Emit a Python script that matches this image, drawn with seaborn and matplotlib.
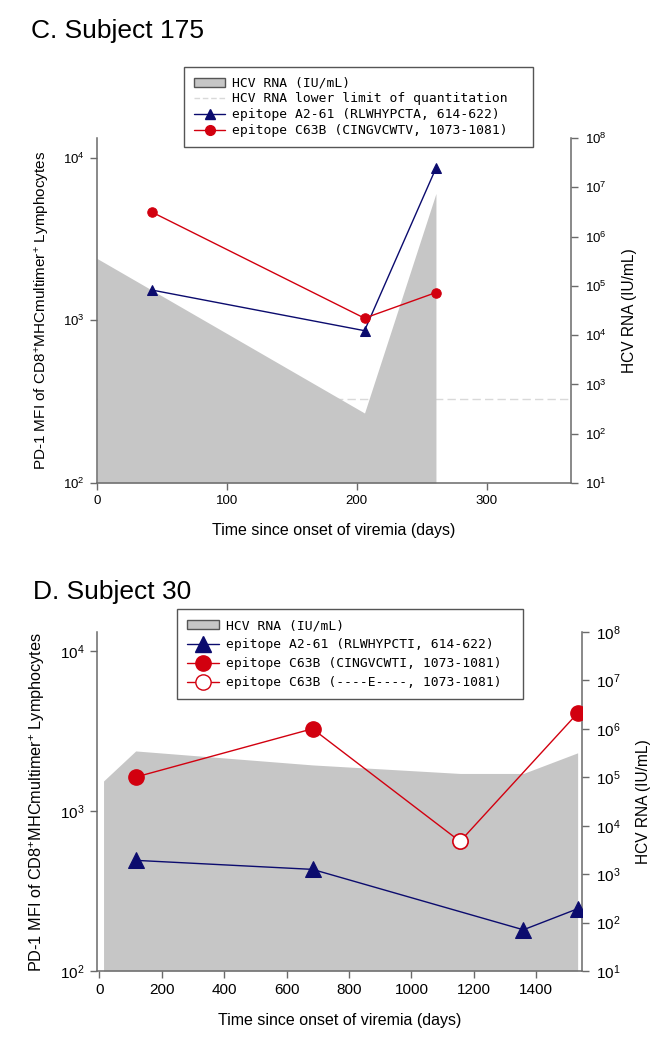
import numpy as np
import pandas as pd
import matplotlib
matplotlib.use("Agg")
import matplotlib.pyplot as plt
import seaborn as sns
from matplotlib.ticker import LogLocator, NullLocator, FixedLocator
from matplotlib.lines import Line2D
from matplotlib.patches import Patch
from matplotlib.font_manager import FontProperties

# ---------------- data ----------------
# Panel C, subject 175
c_days_a2 = [42, 206, 261]
c_mfi_a2 = [1535, 863, 8600]
c_days_c63 = [42, 206, 261]
c_mfi_c63 = [4630, 1030, 1480]
c_rna_days = [0, 206, 261]
c_rna = [3.6e5, 263, 7.5e6]
c_lloq = 500
c_xticks = [0, 100, 200, 300]
c_labels = ["HCV RNA (IU/mL)",
            "HCV RNA lower limit of quantitation",
            "epitope A2-61 (RLWHYPCTA, 614-622)",
            "epitope C63B (CINGVCWTV, 1073-1081)"]

# Panel D, subject 30
d_days_a2 = [116, 683, 1359, 1533]
d_mfi_a2 = [492, 432, 181, 245]
d_days_c63 = [116, 683, 1533]
d_mfi_c63 = [1632, 3273, 4098]
d_days_c63_var = [1156]
d_mfi_c63_var = [646]
d_rna_days = [13, 116, 683, 1156, 1359, 1533]
d_rna = [8.4e4, 3.5e5, 1.8e5, 1.2e5, 1.2e5, 3.2e5]
d_xticks = [0, 200, 400, 600, 800, 1000, 1200, 1400]
d_labels = ["HCV RNA (IU/mL)",
            "epitope A2-61 (RLWHYPCTI, 614-622)",
            "epitope C63B (CINGVCWTI, 1073-1081)",
            "epitope C63B (----E----, 1073-1081)"]

# ---------------- style ----------------
sns.set_style("ticks")
plt.rcParams["font.family"] = ["Liberation Sans", "DejaVu Sans"]
plt.rcParams["mathtext.fontset"] = "custom"
plt.rcParams["mathtext.rm"] = "Liberation Sans"
plt.rcParams["mathtext.it"] = "Liberation Sans:italic"
plt.rcParams["mathtext.bf"] = "Liberation Sans:bold"
plt.rcParams["text.color"] = "black"
plt.rcParams["axes.labelcolor"] = "black"

GRAY = "#c6c6c6"
NAVY = "#0b0b6e"
RED = "#d2000f"
SPINE = "#6a6a6a"
LLOQ_C = "#d9d9d9"
MONO = FontProperties(family="DejaVu Sans Mono", size=9.35)
W, H = 666.0, 1050.0

fig = plt.figure(figsize=(6.66, 10.5), dpi=100)


def setup_axes(rect, xlim, xticks, tick_fs, ylab_fs, xlab_fs):
    ax = fig.add_axes(rect)
    ax2 = ax.twinx()
    ax.set_zorder(ax2.get_zorder() + 1)
    ax.patch.set_visible(False)
    ax.set_yscale("log")
    ax2.set_yscale("log")
    ax.set_ylim(100, 10 ** 4.12)
    ax2.set_ylim(10, 1e8)
    ax.set_xlim(*xlim)
    ax.xaxis.set_major_locator(FixedLocator(xticks))
    for a in (ax, ax2):
        a.yaxis.set_major_locator(LogLocator(base=10, numticks=12))
        a.yaxis.set_minor_locator(NullLocator())
        a.spines["top"].set_visible(False)
        for s in a.spines.values():
            s.set_color(SPINE)
            s.set_linewidth(1.1)
    ax.spines["right"].set_visible(False)
    ax2.spines["left"].set_visible(False)
    ax2.spines["bottom"].set_visible(False)
    ax.tick_params(axis="both", which="major", direction="out", length=5,
                   width=1, color=SPINE, labelcolor="black",
                   labelsize=tick_fs, pad=4, left=True, bottom=True)
    ax2.tick_params(axis="y", which="major", direction="out", length=5,
                    width=1, color=SPINE, labelcolor="black",
                    labelsize=tick_fs, pad=5, right=True)
    ax.set_ylabel("PD-1 MFI of CD8$^{+}$MHCmultimer$^{+}$ Lymphocytes",
                  fontsize=ylab_fs, labelpad=8)
    ax.set_xlabel("Time since onset of viremia (days)", fontsize=xlab_fs,
                  labelpad=11)
    ax2.set_ylabel("HCV RNA (IU/mL)", fontsize=11.2, labelpad=11)
    return ax, ax2


def make_legend(ax, handles, labels, left, right, top, spacing, pad):
    leg = ax.legend(handles, labels, loc="upper left",
                    bbox_to_anchor=(left / W, 1 - top / H - 0.1,
                                    (right - left) / W, 0.1),
                    bbox_transform=fig.transFigure, mode="expand",
                    prop=MONO, frameon=True,
                    fancybox=False, edgecolor="#555555", framealpha=1,
                    borderpad=pad, labelspacing=spacing, handlelength=2.45,
                    handletextpad=0.52, borderaxespad=0)
    leg.get_frame().set_linewidth(1.0)
    return leg


# ---------------- Panel C ----------------
axC, axC2 = setup_axes([97 / W, 1 - 483 / H, (571 - 97) / W, (483 - 138) / H],
                       (0, 365), c_xticks, 9.5, 11, 11.5)
axC2.axhline(c_lloq, color=LLOQ_C, ls=(0, (6, 3)), lw=1, zorder=1)
axC2.fill_between(c_rna_days, 10, c_rna, color=GRAY, lw=0, zorder=2)
sns.lineplot(x=c_days_a2, y=c_mfi_a2, ax=axC, color=NAVY, marker="^",
             markersize=7, markeredgecolor=NAVY, lw=1.0, legend=False)
sns.lineplot(x=c_days_c63, y=c_mfi_c63, ax=axC, color=RED, marker="o",
             markersize=6.8, markeredgecolor=RED, lw=1.0, legend=False)

hC = [Patch(facecolor=GRAY, edgecolor="#555555", lw=1),
      Line2D([], [], color=LLOQ_C, ls=(0, (4, 2)), lw=1),
      Line2D([], [], color=NAVY, marker="^", ms=7, lw=1),
      Line2D([], [], color=RED, marker="o", ms=7, lw=1)]
make_legend(axC, hC, c_labels, 184, 533, 67, 0.22, 0.74)
fig.text(31 / W, 1 - 31 / H, "C. Subject 175", fontsize=19,
         ha="left", va="center")

# ---------------- Panel D ----------------
axD, axD2 = setup_axes([97 / W, 1 - 971 / H, (582 - 97) / W, (971 - 632) / H],
                       (-8, 1547), d_xticks, 11, 11.7, 11.5)
axD2.fill_between(d_rna_days, 10, d_rna, color=GRAY, lw=0, zorder=2)
sns.lineplot(x=d_days_a2, y=d_mfi_a2, ax=axD, color=NAVY, marker="^",
             markersize=11.5, markeredgecolor=NAVY, lw=1.0, legend=False)
c63_all = pd.DataFrame({
    "day": d_days_c63 + d_days_c63_var,
    "mfi": d_mfi_c63 + d_mfi_c63_var,
    "variant": ["wt"] * len(d_days_c63) + ["E"] * len(d_days_c63_var),
}).sort_values("day")
sns.lineplot(data=c63_all, x="day", y="mfi", ax=axD, color=RED, lw=1.0,
             legend=False)
sns.scatterplot(data=c63_all[c63_all["variant"] == "wt"], x="day", y="mfi",
                ax=axD, marker="o", s=121, color=RED, edgecolor=RED,
                linewidth=1, zorder=4, legend=False)
sns.scatterplot(data=c63_all[c63_all["variant"] == "E"], x="day", y="mfi",
                ax=axD, marker="o", s=121, facecolor="white", edgecolor=RED,
                linewidth=1.2, zorder=4, legend=False)
axD.set_xlabel("Time since onset of viremia (days)", fontsize=11.5, labelpad=11)
axD.set_ylabel("PD-1 MFI of CD8$^{+}$MHCmultimer$^{+}$ Lymphocytes",
               fontsize=11.7, labelpad=9)

hD = [Patch(facecolor=GRAY, edgecolor="#555555", lw=1),
      Line2D([], [], color=NAVY, marker="^", ms=11.5, lw=1),
      Line2D([], [], color=RED, marker="o", ms=11, lw=1),
      Line2D([], [], color=RED, marker="o", ms=11, lw=1,
             markerfacecolor="white", markeredgecolor=RED)]
make_legend(axD, hD, d_labels, 177, 523, 609, 0.46, 0.78)
fig.text(33 / W, 1 - 592 / H, "D. Subject 30", fontsize=19,
         ha="left", va="center")

fig.savefig("out.png", dpi=100)
